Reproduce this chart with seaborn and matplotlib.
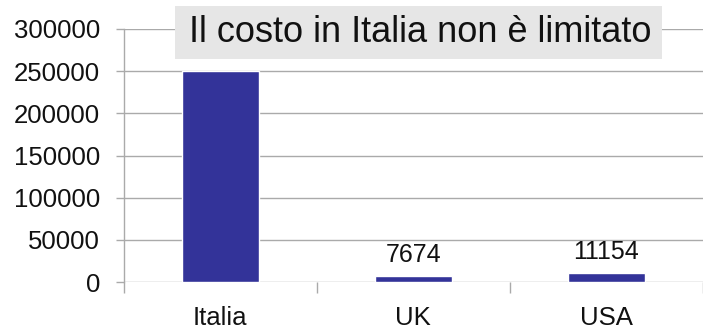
import matplotlib
matplotlib.use("Agg")
import matplotlib.pyplot as plt
import matplotlib.patches as mpatches
import seaborn as sns
import pandas as pd

categories = ["Italia", "UK", "USA"]
values = [250000, 7674, 11154]
labels = ["", "7674", "11154"]
title = "Il costo in Italia non è limitato"
yticks = [0, 50000, 100000, 150000, 200000, 250000, 300000]

sns.set_style("white")
plt.rcParams['font.family'] = ['Liberation Sans', 'DejaVu Sans']

df = pd.DataFrame({"paese": categories, "costo": values})

fig = plt.figure(figsize=(7.03, 3.33), dpi=100)
ax = fig.add_axes([0.176, 0.153, 0.824, 0.760])

sns.barplot(data=df, x="paese", y="costo", color="#333399", saturation=1,
            width=0.4, ax=ax, zorder=3)

ax.set_ylim(0, 300000)
ax.set_yticks(yticks)
ax.set_yticklabels([str(v) for v in yticks], fontsize=18.5, color="#111111")
ax.set_xlim(-0.5, 2.446)
ax.set_xlabel("")
ax.set_ylabel("")
ax.yaxis.grid(True, color="#aaaaaa", linewidth=1.0, zorder=0)
ax.xaxis.grid(False)
ax.set_axisbelow(True)

ax.set_xticks([0, 1, 2])
ax.set_xticklabels(categories, fontsize=18.5, color="#111111")
ax.tick_params(axis="x", which="major", bottom=True, length=0, pad=17)
ax.set_xticks([-0.5, 0.5, 1.5, 2.5], minor=True)
ax.tick_params(axis="x", which="minor", bottom=True, length=8, width=1,
               color="#aaaaaa", direction="out")
ax.tick_params(axis="y", left=True, length=6, width=1, color="#aaaaaa",
               direction="out", pad=11)

for s in ["top", "right", "bottom"]:
    ax.spines[s].set_visible(False)
ax.spines["left"].set_color("#aaaaaa")
ax.spines["left"].set_linewidth(1.0)

for i, (v, lab) in enumerate(zip(values, labels)):
    if lab:
        ax.annotate(lab, (i, v), xytext=(0, 6), textcoords="offset points",
                    ha="center", va="bottom", fontsize=18, color="#111111")

# title box
fig.patches.append(mpatches.Rectangle((175 / 703, 1 - 59 / 333), 487 / 703, 53 / 333,
                                      transform=fig.transFigure, facecolor="#e6e6e6",
                                      edgecolor="none", zorder=5))
fig.text(420 / 703, 1 - 33 / 333, title, ha="center", va="center", fontsize=26,
         color="#111111", zorder=6)

fig.savefig("out.png", dpi=100)
